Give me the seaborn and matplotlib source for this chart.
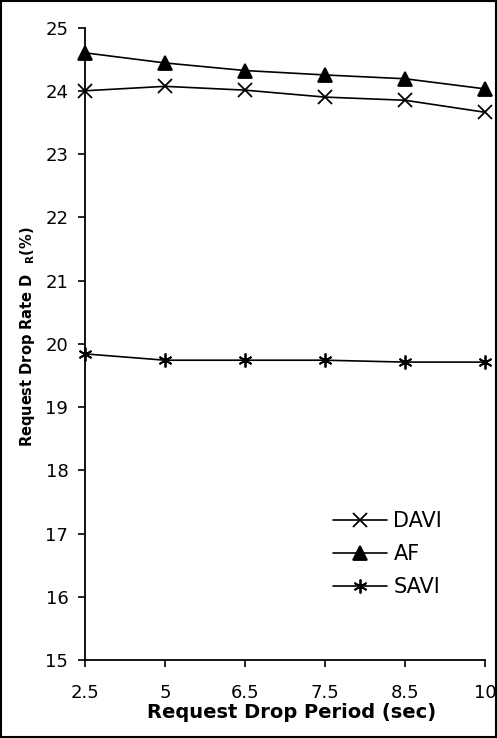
import matplotlib
matplotlib.use("Agg")
import matplotlib.pyplot as plt
import seaborn as sns
import pandas as pd
from matplotlib.patches import Rectangle

periods = ["2.5", "5", "6.5", "7.5", "8.5", "10"]
davi = [24.00, 24.07, 24.01, 23.90, 23.85, 23.66]
af = [24.60, 24.44, 24.32, 24.25, 24.19, 24.03]
savi = [19.84, 19.74, 19.74, 19.74, 19.71, 19.71]
series_names = ["DAVI", "AF", "SAVI"]

rows = []
for name, vals in zip(series_names, [davi, af, savi]):
    for i, (p, v) in enumerate(zip(periods, vals)):
        rows.append({"pos": i, "period": p, "value": v, "series": name})
df = pd.DataFrame(rows)

sns.set_style("ticks")
plt.rcParams["font.family"] = ["DejaVu Sans"]
plt.rcParams["mathtext.fontset"] = "dejavusans"
plt.rcParams["text.color"] = "black"
plt.rcParams["axes.labelcolor"] = "black"
plt.rcParams["xtick.color"] = "black"
plt.rcParams["ytick.color"] = "black"

fig = plt.figure(figsize=(4.97, 7.38), dpi=100)
ax = fig.add_axes([0.171, 0.1057, 0.805, 0.857])

markers = {"DAVI": "x", "AF": "^", "SAVI": (6, 2, 0)}
sizes = {"DAVI": 9.5, "AF": 9.5, "SAVI": 10}
for name in series_names:
    sub = df[df["series"] == name]
    sns.lineplot(data=sub, x="pos", y="value", ax=ax, color="black",
                 marker=markers[name], markersize=sizes[name],
                 markeredgewidth=1.3, markerfacecolor="black",
                 markeredgecolor="black", linewidth=1.2, label=name,
                 legend=False, clip_on=False)

ax.set_xlim(0, len(periods) - 1)
ax.set_ylim(15, 25)
ax.set_yticks(range(15, 26))
ax.set_xticks(range(len(periods)))
ax.set_xticklabels(periods)
ax.tick_params(axis="both", labelsize=13, length=5, width=1.2, color="black",
               labelcolor="black")
ax.tick_params(axis="y", pad=7)
ax.tick_params(axis="x", pad=12)
for s in ["top", "right"]:
    ax.spines[s].set_visible(False)
for s in ["left", "bottom"]:
    ax.spines[s].set_linewidth(1.3)
    ax.spines[s].set_color("black")

ax.set_xlabel("Request Drop Period (sec)", fontsize=14, fontweight="bold",
              color="black")
ax.xaxis.set_label_coords((292 - 85) / 400, -(703 - 660) / 632)
ax.set_ylabel(r"Request Drop Rate D  $_{\mathbf{R}}$(%)", fontsize=10.5,
              fontweight="bold", color="black")
ax.yaxis.set_label_coords(-(85 - 37) / 400, (660 - 337) / 632)

handles = ax.lines[:3]
leg = ax.legend(handles, series_names, loc="center left",
                bbox_to_anchor=(333 / 497, (738 - 554) / 738),
                bbox_transform=fig.transFigure, frameon=False, fontsize=15,
                handlelength=2.6, handletextpad=0.3, labelspacing=0.62,
                borderpad=0, borderaxespad=0, labelcolor="black")

fig.patches.append(Rectangle((0.002, 0.0015), 0.996, 0.997, transform=fig.transFigure,
                             fill=False, edgecolor="black", linewidth=1.5))

fig.savefig("out.png", dpi=100, facecolor="white")
